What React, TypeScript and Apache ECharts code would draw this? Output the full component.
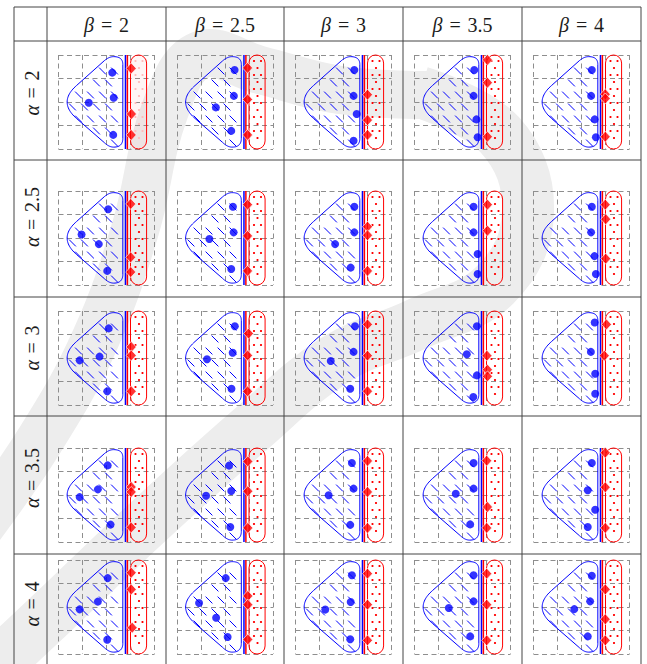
import React, { useEffect, useRef } from "react";
import * as echarts from "echarts";

// ---------------- data ----------------
const alphaLabels = ["2", "2.5", "3", "3.5", "4"];
const betaLabels = ["2", "2.5", "3", "3.5", "4"];

// positions in diagram units (x: 0..4 to the right, y: 0..4 downwards); one entry per beta column
const blueAlpha2 = [
  [[2.24, 0.75], [2.3, 1.82], [1.26, 2.03], [2.28, 3.4]],
  [[2.4, 0.64], [2.37, 1.74], [1.62, 2.23], [2.26, 3.23]],
  [[2.45, 0.64], [2.42, 1.74], [2.55, 2.51], [2.42, 3.65]],
  [[2.49, 0.64], [2.46, 1.74], [2.58, 2.74], [2.63, 3.5]],
  [[2.43, 0.64], [2.4, 1.74], [2.55, 2.74], [2.6, 3.5]],
];
const redAlpha2 = [
  [[3.03, 0.57], [3.04, 2.51], [3.03, 3.4]],
  [[2.94, 0.55], [2.94, 1.89], [2.94, 3.4]],
  [[3.0, 1.69], [3.0, 2.77], [3.0, 3.4]],
  [[3.04, 0.21], [3.04, 1.18], [3.04, 3.48]],
  [[2.99, 1.67], [2.99, 1.85], [2.99, 3.48]],
];
const blueAlpha25 = [
  [[2.07, 0.78], [0.96, 1.85], [1.68, 2.26], [2.03, 3.4]],
  [[2.33, 0.67], [2.36, 1.76], [1.35, 2.04], [2.26, 3.32]],
  [[2.45, 0.67], [2.45, 1.76], [1.65, 2.26], [2.3, 3.26]],
  [[2.46, 0.67], [2.46, 1.76], [2.63, 2.68], [2.63, 3.53]],
  [[2.43, 0.67], [2.4, 1.76], [2.54, 2.77], [2.6, 3.53]],
];
const redAlpha25 = [
  [[3.01, 0.55], [3.01, 2.82], [3.01, 3.45]],
  [[2.94, 0.58], [2.94, 1.91], [2.94, 3.4]],
  [[3.0, 1.52], [3.0, 1.88], [3.0, 3.4]],
  [[3.04, 0.58], [3.04, 1.69]],
  [[2.99, 0.58], [3.01, 1.2], [3.01, 2.88]],
];
const blueAlpha3 = [
  [[2.09, 0.74], [1.71, 1.94], [0.88, 2.1], [2.03, 3.42]],
  [[2.41, 0.65], [2.32, 1.78], [1.25, 2.05], [2.27, 3.31]],
  [[2.48, 0.65], [2.42, 1.74], [1.47, 2.13], [2.28, 3.31]],
  [[2.6, 0.65], [2.18, 1.84], [2.6, 2.74], [2.45, 3.66]],
  [[2.55, 0.49], [2.39, 1.74], [2.57, 2.67], [2.57, 3.52]],
];
const redAlpha3 = [
  [[3.03, 1.53], [3.03, 1.89], [3.03, 3.42]],
  [[2.98, 0.96], [2.94, 1.89], [2.94, 3.42]],
  [[3.0, 0.57], [3.0, 1.9], [3.0, 3.41]],
  [[3.02, 1.9], [3.04, 2.5], [3.04, 2.78]],
  [[3.04, 0.57], [2.95, 1.9]],
];
const blueAlpha35 = [
  [[2.05, 0.74], [1.64, 1.76], [0.88, 2.09], [2.17, 3.26]],
  [[2.17, 0.75], [2.26, 1.83], [1.21, 2.03], [2.22, 3.36]],
  [[2.35, 0.64], [2.42, 1.73], [1.38, 2.01], [2.28, 3.27]],
  [[2.46, 0.64], [2.46, 1.73], [1.72, 1.95], [2.32, 3.25]],
  [[2.43, 0.64], [2.26, 1.8], [2.57, 2.63], [2.26, 3.36]],
];
const redAlpha35 = [
  [[3.03, 1.66], [3.03, 1.87], [3.03, 3.38]],
  [[2.95, 0.57], [2.95, 1.84], [2.95, 3.4]],
  [[3.0, 0.55], [3.0, 1.87], [3.0, 3.4]],
  [[3.01, 0.54], [3.04, 2.51], [3.01, 3.4]],
  [[2.99, 0.2], [2.99, 1.67], [2.99, 3.4]],
];
const blueAlpha4 = [
  [[2.05, 0.77], [1.64, 1.77], [0.88, 2.1], [2.03, 3.39]],
  [[2.03, 0.77], [0.92, 1.83], [1.63, 2.46], [2.11, 3.28]],
  [[2.35, 0.65], [2.3, 1.79], [1.24, 2.11], [2.28, 3.37]],
  [[2.46, 0.65], [2.46, 1.76], [1.43, 2.04], [2.32, 3.25]],
  [[2.43, 0.67], [2.36, 1.76], [1.7, 2.09], [2.26, 3.25]],
];
const redAlpha4 = [
  [[3.03, 0.54], [3.03, 1.25], [3.07, 2.88]],
  [[2.95, 1.53], [2.95, 1.9], [2.95, 3.38]],
  [[3.0, 0.58], [3.0, 1.9], [3.0, 3.42]],
  [[3.01, 0.58], [3.01, 1.9], [3.01, 3.42]],
  [[2.99, 1.25], [2.99, 2.52], [2.99, 3.42]],
];

const blueRows = [blueAlpha2, blueAlpha25, blueAlpha3, blueAlpha35, blueAlpha4];
const redRows = [redAlpha2, redAlpha25, redAlpha3, redAlpha35, redAlpha4];

// ---------------- layout ----------------
const COL_X = [47, 166, 284, 403, 522, 641];
const ROW_Y = [41, 160, 297, 416, 554];
const TABLE_LEFT = 14;
const TABLE_TOP = 7;
const PAGE_H = 664;
const GRID_TOP = [55, 191, 311, 448, 560];
const GRID_W = 96;
const GRID_H = 94;
const ROW_LABEL_Y = [93, 217, 348, 478, 604];

const BLUE = "#0000ff";
const RED = "#ff0000";
const TEXT = "#1c1c1c";
const FAMILY = '"Liberation Serif", "DejaVu Serif", Lato, serif';

// blob outline in diagram units
const BLOB_START = [2.68, 0.4];
const BLOB_SEGS: any[] = [
  ["Q", [2.68, 0.07], [2.3, 0.07]],
  ["Q", [2.1, 0.07], [1.9, 0.25]],
  ["L", [0.75, 1.3]],
  ["Q", [0.36, 1.65], [0.36, 2.0]],
  ["Q", [0.36, 2.35], [0.75, 2.7]],
  ["L", [1.9, 3.72]],
  ["Q", [2.1, 3.92], [2.3, 3.92]],
  ["Q", [2.68, 3.92], [2.68, 3.55]],
  ["L", [2.68, 0.4]],
];

function sampleBlob(): number[][] {
  const pts: number[][] = [BLOB_START];
  let cur = BLOB_START;
  for (const seg of BLOB_SEGS) {
    if (seg[0] === "L") {
      pts.push(seg[1]);
      cur = seg[1];
    } else {
      const c = seg[1];
      const e = seg[2];
      const n = 14;
      for (let k = 1; k <= n; k++) {
        const t = k / n;
        const a = (1 - t) * (1 - t);
        const b = 2 * (1 - t) * t;
        const d = t * t;
        pts.push([a * cur[0] + b * c[0] + d * e[0], a * cur[1] + b * c[1] + d * e[1]]);
      }
      cur = e;
    }
  }
  return pts;
}
const BLOB_PTS = sampleBlob();

function inside(p: number[], poly: number[][]) {
  let c = false;
  for (let i = 0, j = poly.length - 1; i < poly.length; j = i++) {
    const xi = poly[i][0], yi = poly[i][1], xj = poly[j][0], yj = poly[j][1];
    if (yi > p[1] !== yj > p[1] && p[0] < ((xj - xi) * (p[1] - yi)) / (yj - yi) + xi) c = !c;
  }
  return c;
}

function makeDeco(pale: boolean) {
  return (params: any, api: any) => {
    const poly = BLOB_PTS.map((p) => api.coord(p));
    const children: any[] = [];
    children.push({
      type: "polygon",
      shape: { points: poly },
      style: { fill: "none", stroke: BLUE, lineWidth: 1 },
    });
    const o = api.coord([0, 0]);
    const e = api.coord([4, 4]);
    let k = 0;
    for (let y = o[1] + 4; y < e[1]; y += 12) {
      const shift = k % 2 === 0 ? 0 : 6;
      for (let x = o[0] + 2 + shift; x < e[0]; x += 12) {
        const a = [x - 3.4, y - 3.4];
        const b = [x + 3.4, y + 3.4];
        if (inside(a, poly) && inside(b, poly)) {
          children.push({
            type: "line",
            shape: { x1: a[0], y1: a[1], x2: b[0], y2: b[1] },
            style: { stroke: BLUE, lineWidth: 1 },
          });
        }
      }
      k++;
    }
    const r0 = api.coord([3.0, 0]);
    const r1 = api.coord([3.67, 4]);
    const w = r1[0] - r0[0];
    const h = r1[1] - r0[1];
    children.push({
      type: "rect",
      shape: { x: r0[0], y: r0[1], width: w, height: h, r: w / 2 },
      style: { fill: pale ? "rgba(255,0,0,0.04)" : "none", stroke: RED, lineWidth: 1 },
    });
    let row = 0;
    for (let y = r0[1] + 6; y < r1[1] - 4; y += 7) {
      const xs = row % 2 === 0 ? [r0[0] + 5, r0[0] + 12] : [r0[0] + 8.5];
      for (const x of xs) {
        children.push({
          type: "circle",
          shape: { cx: x, cy: y, r: 1.1 },
          style: { fill: pale ? "#ffbcbc" : RED },
        });
      }
      row++;
    }
    const vb0 = api.coord([2.79, 0]);
    const vb1 = api.coord([2.79, 4]);
    children.push({
      type: "line",
      shape: { x1: vb0[0], y1: vb0[1], x2: vb1[0], y2: vb1[1] },
      style: { stroke: BLUE, lineWidth: 1.5 },
    });
    const vr0 = api.coord([2.87, 0]);
    const vr1 = api.coord([2.87, 4]);
    children.push({
      type: "line",
      shape: { x1: vr0[0], y1: vr0[1], x2: vr1[0], y2: vr1[1] },
      style: { stroke: RED, lineWidth: 1.5 },
    });
    return { type: "group", children };
  };
}

// label: italic greek letter, equals sign, value
function labelPieces(letter: string, value: string) {
  const wL = 10;
  const gap = 7;
  const wE = 11;
  const wV = value.length === 1 ? 10 : 25;
  const total = wL + gap + wE + gap + wV;
  let x = -total / 2;
  const base = { fill: TEXT, verticalAlign: "middle", align: "left", fontFamily: FAMILY, fontSize: 20 };
  const pieces: any[] = [];
  pieces.push({ type: "text", x, y: 0, style: { ...base, text: letter, fontStyle: "italic" } });
  x += wL + gap;
  pieces.push({ type: "text", x, y: 0, style: { ...base, text: "=" } });
  x += wE + gap;
  pieces.push({ type: "text", x, y: 0, style: { ...base, text: value } });
  return pieces;
}

function buildOption() {
  const grids: any[] = [];
  const xAxes: any[] = [];
  const yAxes: any[] = [];
  const series: any[] = [];
  const split = { show: true, lineStyle: { color: "#8e8e8e", type: [5, 3.5], width: 1 } };
  for (let r = 0; r < 5; r++) {
    for (let c = 0; c < 5; c++) {
      const i = r * 5 + c;
      grids.push({
        left: COL_X[c] + (COL_X[c + 1] - COL_X[c] - GRID_W) / 2,
        top: GRID_TOP[r],
        width: GRID_W,
        height: GRID_H,
        show: false,
      });
      const axisBase = {
        gridIndex: i,
        type: "value",
        min: 0,
        max: 4,
        interval: 1,
        axisLine: { show: false },
        axisTick: { show: false },
        axisLabel: { show: false },
        splitLine: split,
      };
      xAxes.push({ ...axisBase });
      yAxes.push({ ...axisBase, inverse: true });
      series.push({
        type: "custom",
        xAxisIndex: i,
        yAxisIndex: i,
        silent: true,
        clip: false,
        z: 2,
        data: [[0, 0]],
        renderItem: makeDeco(r === 0 && c === 0),
      });
      series.push({
        type: "scatter",
        xAxisIndex: i,
        yAxisIndex: i,
        silent: true,
        clip: false,
        z: 3,
        symbol: "circle",
        symbolSize: 8,
        itemStyle: { color: BLUE },
        data: blueRows[r][c],
      });
      series.push({
        type: "scatter",
        xAxisIndex: i,
        yAxisIndex: i,
        silent: true,
        clip: false,
        z: 4,
        symbol: "diamond",
        symbolSize: [10, 11],
        itemStyle: { color: RED, borderColor: "#ffffff", borderWidth: 0.8 },
        data: redRows[r][c],
      });
    }
  }

  const graphic: any[] = [];
  const wm = "#ededed";
  graphic.push({
    type: "polyline",
    z: -10,
    silent: true,
    shape: {
      points: [
        [420, 92], [500, 135], [528, 212], [495, 285], [415, 325], [335, 360],
        [250, 430], [150, 520], [50, 615], [-30, 690],
      ],
      smooth: 0.4,
    },
    style: { fill: "none", stroke: wm, lineWidth: 52 },
  });
  graphic.push({
    type: "polyline",
    z: -10,
    silent: true,
    shape: {
      points: [
        [430, 95], [340, 90], [260, 70], [200, 55], [165, 110], [135, 230],
        [95, 340], [40, 440], [-30, 540],
      ],
      smooth: 0.4,
    },
    style: { fill: "none", stroke: wm, lineWidth: 48 },
  });

  const lineStyle = { stroke: "#454545", lineWidth: 1 };
  const addLine = (x1: number, y1: number, x2: number, y2: number) =>
    graphic.push({ type: "line", z: 50, silent: true, shape: { x1, y1, x2, y2 }, style: lineStyle });
  addLine(TABLE_LEFT, TABLE_TOP, COL_X[5], TABLE_TOP);
  ROW_Y.forEach((y) => addLine(TABLE_LEFT, y, COL_X[5], y));
  addLine(TABLE_LEFT, TABLE_TOP, TABLE_LEFT, PAGE_H);
  COL_X.forEach((x) => addLine(x, TABLE_TOP, x, PAGE_H));

  betaLabels.forEach((b, c) => {
    graphic.push({
      type: "group",
      z: 60,
      silent: true,
      x: (COL_X[c] + COL_X[c + 1]) / 2,
      y: 25,
      children: labelPieces("β", b),
    });
  });
  alphaLabels.forEach((a, r) => {
    graphic.push({
      type: "group",
      z: 60,
      silent: true,
      x: 32,
      y: ROW_LABEL_Y[r],
      rotation: Math.PI / 2,
      children: labelPieces("α", a),
    });
  });

  return {
    animation: false,
    backgroundColor: "#ffffff",
    grid: grids,
    xAxis: xAxes,
    yAxis: yAxes,
    series,
    graphic,
  };
}

export default function App() {
  const ref = useRef<HTMLDivElement>(null);
  useEffect(() => {
    if (!ref.current) return;
    const chart = echarts.init(ref.current, undefined, { renderer: "svg" });
    chart.setOption(buildOption());
    return () => chart.dispose();
  }, []);
  return (
    <div
      ref={ref}
      style={{ position: "fixed", left: 0, top: 0, width: 647, height: 664, background: "#fff" }}
    />
  );
}
